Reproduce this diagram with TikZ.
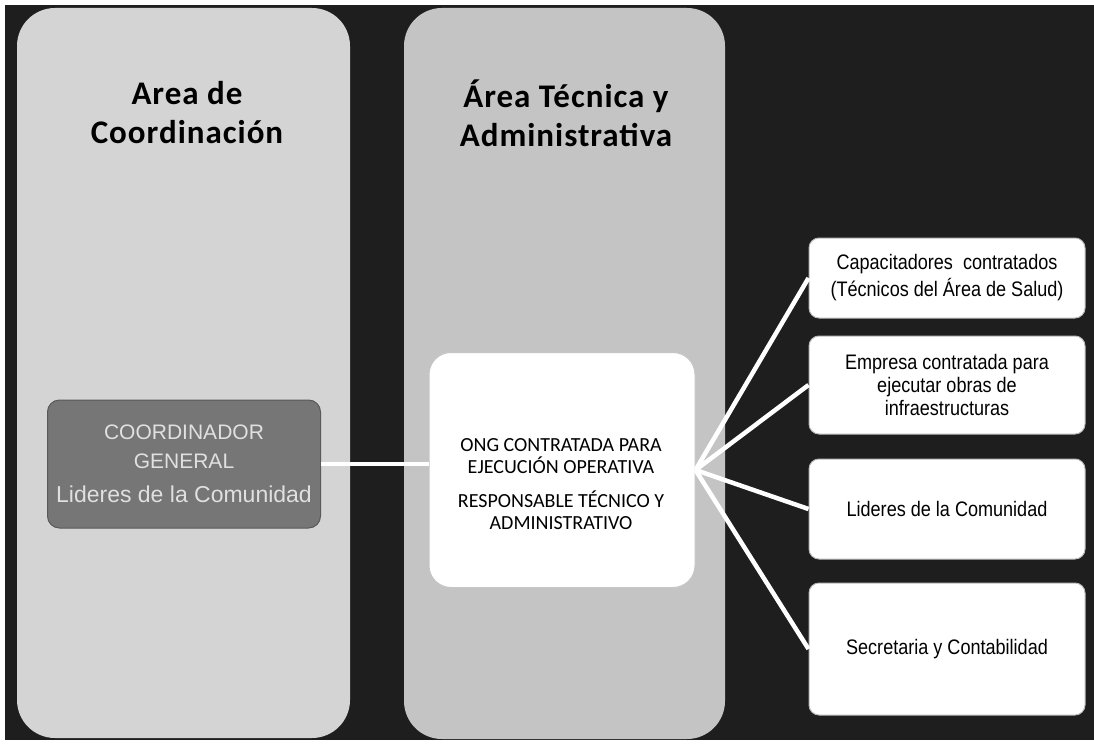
\documentclass[tikz,border=0pt]{standalone}
\usepackage{fontspec}
\setmainfont{Liberation Sans}
\newfontfamily\calibri{Carlito}
\newfontfamily\calibrititle{Carlito}[LetterSpace=3]
\newfontfamily\narrowsans{Liberation Sans}[FakeStretch=0.86]
\usepackage{tikz}
\usetikzlibrary{positioning}
\definecolor{mydark}{RGB}{30,30,30}
\definecolor{mylightgray}{RGB}{212,212,212}
\definecolor{mymidgray}{RGB}{196,196,196}
\definecolor{mycoordgray}{RGB}{118,118,118}
\definecolor{myembossed}{RGB}{224,224,224}
\tikzstyle{unit}=[draw=gray!55,fill=white,rounded corners=10pt,line width=1pt,minimum width=276pt,inner sep=0pt,align=center,font=\narrowsans\fontsize{21}{23}\selectfont]

\begin{document}
\begin{tikzpicture}[
  x=1pt, y=-1pt,
  node distance=20pt,
  link/.style={draw=white, line width=4.5pt},
  areatitle/.style={align=center, font=\calibrititle\bfseries\fontsize{33}{39}\selectfont},
  coordbox/.style={
    draw=black!65,
    line width=1pt,
    fill=mycoordgray,
    rounded corners=12pt,
    text=myembossed,
    align=center,
    inner sep=0pt,
    font=\fontsize{21}{29}\selectfont
    },
  ongbox/.style={
    draw=gray!45,
    line width=1pt,
    fill=white,
    rounded corners=22pt,
    inner sep=0pt
    },
  ongtext/.style={align=center, font=\calibri\fontsize{20}{22}\selectfont}
]
\useasboundingbox (0,0) rectangle (1094,746);
\fill[white] (0,0) rectangle (1094,746);
\fill[mydark] (5,5) rectangle (1094,740);
% the two areas
\fill[mylightgray, rounded corners=38pt] (17,8) rectangle (350,738);
\fill[mymidgray, rounded corners=38pt] (404,8) rectangle (725,739);
\node[areatitle] (coordtitle) at (187,113) {Area de\\Coordinación};
\node[areatitle] (tectitle) at (566,113) {Área Técnica y\\Administrativa};

\node[coordbox, minimum width=273pt, minimum height=128pt] (coord) at (184,464)
  {COORDINADOR\\GENERAL\\[5pt]{\fontsize{23}{26}\selectfont Lideres de la Comunidad}};
\node[ongbox, minimum width=266pt, minimum height=235pt] (ong) at (562,470) {};
\node[ongtext] (ongtxt) at (561,484)
  {ONG CONTRATADA PARA\\EJECUCIÓN OPERATIVA\\[12pt]RESPONSABLE TÉCNICO Y\\ADMINISTRATIVO};

% right column
\node[unit, minimum height=80pt] (capac) at (947,278)
  {Capacitadores\ \ contratados\\[4pt](Técnicos del Área de Salud)};
\node[unit, minimum height=98pt, below=17pt of capac] (empresa)
  {Empresa contratada para\\ejecutar obras de\\infraestructuras};
\node[unit, minimum height=100pt, below=24pt of empresa] (lideres) {Lideres de la Comunidad};
\node[unit, minimum height=132pt, below=23pt of lideres] (secret) {Secretaria y Contabilidad};

\draw[link] (coord.east) -- (coord.east -| ong.west);
\foreach \n in {capac,empresa,lideres,secret}
  \draw[link] (ong.east) -- (\n.west);
\end{tikzpicture}
\end{document}
